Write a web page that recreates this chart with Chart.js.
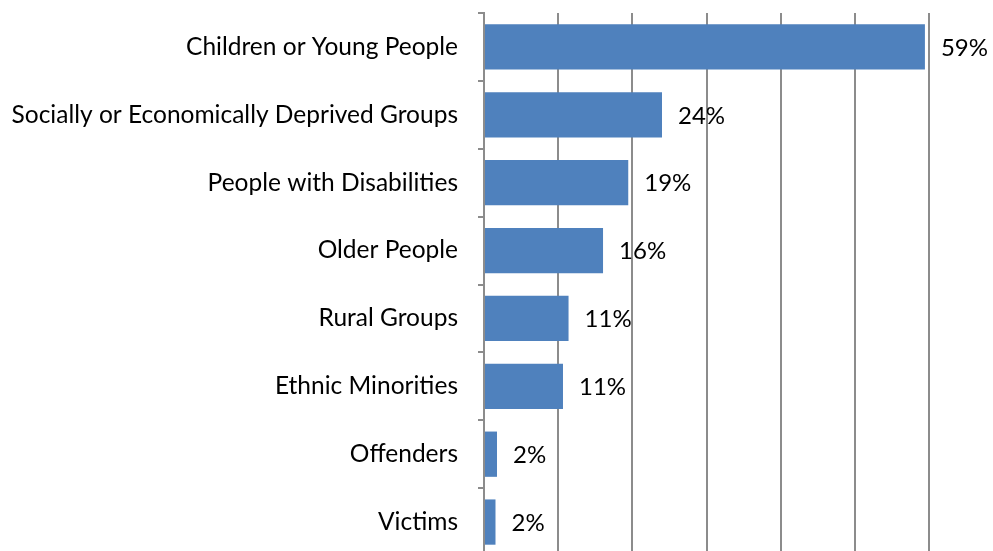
<!DOCTYPE html>
<html>
<head>
<meta charset="utf-8">
<script src="https://cdn.jsdelivr.net/npm/chart.js@4"></script>
<style>
  html, body { margin: 0; padding: 0; background: #fff; overflow: hidden; }
  #wrap { position: relative; width: 993px; height: 557px; }
</style>
</head>
<body>
<div id="wrap"><canvas id="c"></canvas></div>
<script>
const categories = [
  "Children or Young People",
  "Socially or Economically Deprived Groups",
  "People with Disabilities",
  "Older People",
  "Rural Groups",
  "Ethnic Minorities",
  "Offenders",
  "Victims"
];
const values = [59.45, 24.0, 19.45, 16.05, 11.4, 10.65, 1.75, 1.55];
const valueLabels = ["59%", "24%", "19%", "16%", "11%", "11%", "2%", "2%"];
const xMin = 0, xMax = 60, xStep = 10;

const FONT = "Lato, 'Open Sans', sans-serif";
const GRID = "#8c8c8c";

const labelPlugin = {
  id: "valueLabels",
  afterDatasetsDraw(chart) {
    const ctx = chart.ctx;
    const meta = chart.getDatasetMeta(0);
    ctx.save();
    ctx.font = "24px " + FONT;
    ctx.fillStyle = "#000";
    ctx.textAlign = "left";
    ctx.textBaseline = "middle";
    meta.data.forEach((bar, i) => {
      ctx.fillText(valueLabels[i], bar.x + 16, bar.y + 1);
    });
    ctx.restore();
  }
};

new Chart(document.getElementById("c"), {
  type: "bar",
  data: {
    labels: categories,
    datasets: [{
      data: values,
      backgroundColor: "#4f81bd",
      borderWidth: 0,
      categoryPercentage: 1.0,
      barPercentage: 0.667
    }]
  },
  options: {
    indexAxis: "y",
    responsive: true,
    maintainAspectRatio: false,
    animation: false,
    layout: { padding: { top: 13, right: 64, bottom: 1, left: 0 } },
    plugins: { legend: { display: false }, tooltip: { enabled: false } },
    scales: {
      x: {
        min: xMin, max: xMax,
        ticks: { display: false, stepSize: xStep },
        grid: { color: GRID, lineWidth: 2, drawTicks: false },
        border: { display: false },
        afterFit(scale) { scale.height = 0; scale.paddingLeft = 0; scale.paddingRight = 0; }
      },
      y: {
        ticks: { color: "#000", font: { family: FONT, size: 24.5 }, padding: 20 },
        grid: { drawOnChartArea: false, drawTicks: true, tickLength: 6, color: GRID, lineWidth: 2 },
        border: { display: true, color: GRID, width: 2 },
        afterFit(scale) { scale.width = 484; scale.paddingTop = 0; scale.paddingBottom = 0; }
      }
    }
  },
  plugins: [labelPlugin]
});
</script>
</body>
</html>
